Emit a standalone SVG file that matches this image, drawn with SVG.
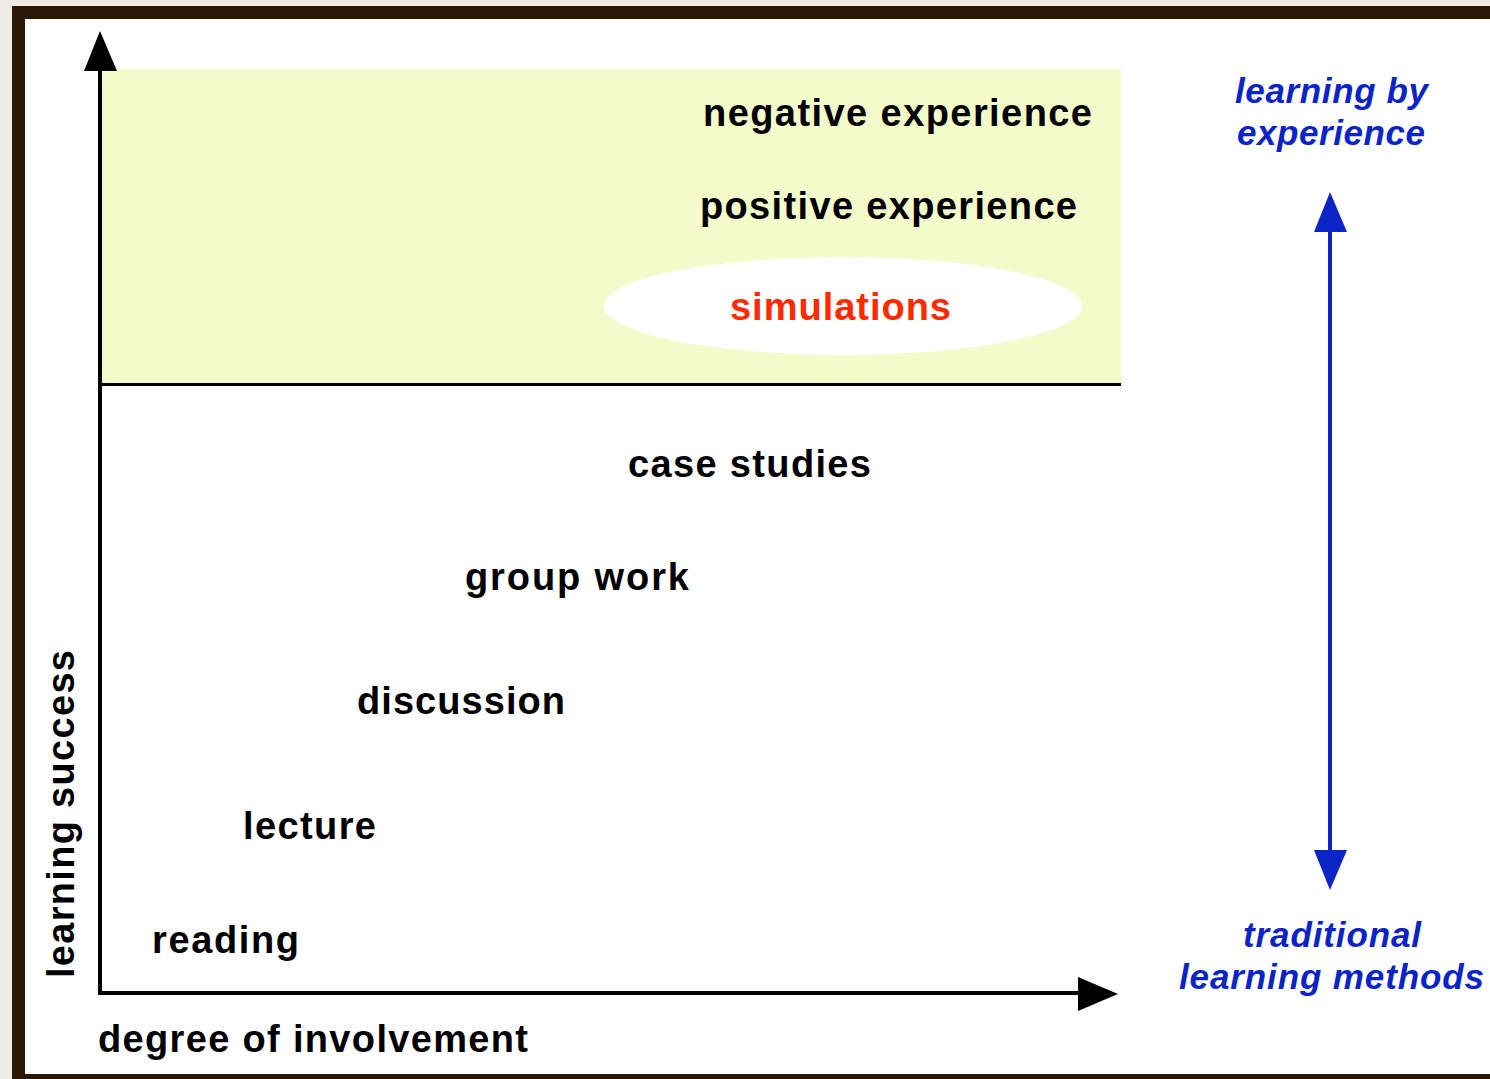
<svg xmlns="http://www.w3.org/2000/svg" width="1490" height="1079" viewBox="0 0 1490 1079">
<style>
.t{font-family:"Liberation Sans",Arial,sans-serif;font-weight:bold;font-size:38px;fill:#000}
.b{font-family:"Liberation Sans",Arial,sans-serif;font-weight:bold;font-style:italic;font-size:35px;fill:#0b24c8}
.r{fill:#ff2a00}
</style>
<rect x="0" y="0" width="1490" height="1079" fill="#eeebe7"/>
<rect x="12" y="6" width="1478" height="1073" fill="#2b1906"/>
<rect x="25" y="19" width="1465" height="1055" fill="#ffffff"/>
<g id="experience-zone">
<rect x="101" y="69" width="1020" height="315" fill="#f2fbc9"/>
<line x1="100" y1="384.5" x2="1121" y2="384.5" stroke="#000" stroke-width="3"/>
</g>
<g id="connectors">
<line x1="100" y1="70" x2="100" y2="995" stroke="#000" stroke-width="4"/>
<polygon points="100,31 117,71 84,71" fill="#000"/>
<line x1="98" y1="993" x2="1080" y2="993" stroke="#000" stroke-width="4"/>
<polygon points="1078,977 1118,994 1078,1011" fill="#000"/>
<line x1="1330" y1="228" x2="1330" y2="854" stroke="#0b24c8" stroke-width="4"/>
<polygon points="1330,192 1347,232 1314,232" fill="#0b24c8"/>
<polygon points="1330,890 1347,850 1314,850" fill="#0b24c8"/>
</g>
<g id="negative-experience"><text class="t" x="703" y="126" textLength="389" lengthAdjust="spacing">negative experience</text></g>
<g id="positive-experience"><text class="t" x="700" y="219" textLength="377" lengthAdjust="spacing">positive experience</text></g>
<g id="simulations">
<ellipse cx="843" cy="306" rx="239" ry="49" fill="#ffffff"/>
<text class="t r" x="730" y="320" textLength="221" lengthAdjust="spacing">simulations</text>
</g>
<g id="case-studies"><text class="t" x="628" y="477" textLength="243" lengthAdjust="spacing">case studies</text></g>
<g id="group-work"><text class="t" x="465" y="590" textLength="224" lengthAdjust="spacing">group work</text></g>
<g id="discussion"><text class="t" x="357" y="714" textLength="208" lengthAdjust="spacing">discussion</text></g>
<g id="lecture"><text class="t" x="243" y="839" textLength="133" lengthAdjust="spacing">lecture</text></g>
<g id="reading"><text class="t" x="152" y="953" textLength="147" lengthAdjust="spacing">reading</text></g>
<g id="x-axis-label"><text class="t" x="98" y="1052" textLength="430" lengthAdjust="spacing">degree of involvement</text></g>
<g id="y-axis-label"><text class="t" transform="translate(74,978) rotate(-90)" x="0" y="0" textLength="328" lengthAdjust="spacing">learning success</text></g>
<g id="learning-by-experience">
<text class="b" x="1235" y="103" textLength="193" lengthAdjust="spacing">learning by</text>
<text class="b" x="1237" y="145" textLength="188" lengthAdjust="spacing">experience</text>
</g>
<g id="traditional-learning-methods">
<text class="b" x="1243" y="947" textLength="178" lengthAdjust="spacing">traditional</text>
<text class="b" x="1179" y="989" textLength="305" lengthAdjust="spacing">learning methods</text>
</g>
</svg>
